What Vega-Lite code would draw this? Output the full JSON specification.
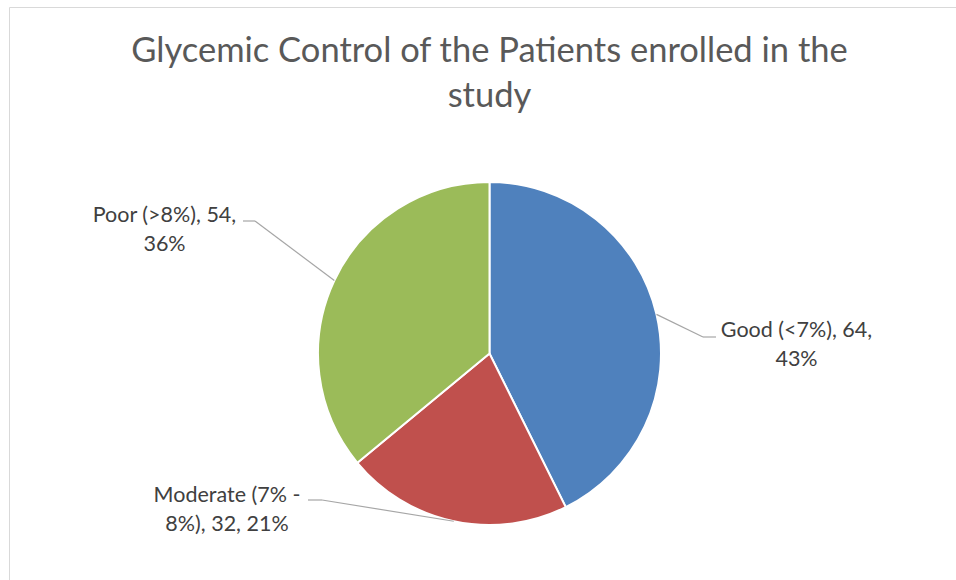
{
  "$schema": "https://vega.github.io/schema/vega-lite/v6.json",
  "width": 961,
  "height": 693,
  "autosize": {"type": "none"},
  "padding": {"left": 9, "top": 7, "right": 0, "bottom": 0},
  "background": "white",
  "config": {"view": {"stroke": "#d9d9d9", "strokeWidth": 1}, "font": "Lato"},
  "title": {
    "text": ["Glycemic Control of the Patients enrolled in the", "study"],
    "anchor": "middle",
    "frame": "group",
    "orient": "top",
    "offset": -134,
    "baseline": "alphabetic",
    "font": "Lato",
    "fontSize": 34.5,
    "fontWeight": "normal",
    "color": "#595959",
    "lineHeight": 45
  },
  "data": {
    "values": [
      {"category": "Good (<7%)", "count": 64, "label": ["Good (<7%), 64,", "43%"]},
      {"category": "Moderate (7% - 8%)", "count": 32, "label": ["Moderate (7% -", "8%), 32, 21%"]},
      {"category": "Poor (>8%)", "count": 54, "label": ["Poor (>8%), 54,", "36%"]}
    ]
  },
  "transform": [
    {"joinaggregate": [{"op": "sum", "field": "count", "as": "total"}]},
    {"window": [{"op": "sum", "field": "count", "as": "cum"}], "sort": [{"field": "category", "order": "ascending"}], "frame": [null, 0]},
    {"calculate": "2*PI*(datum.cum - datum.count/2)/datum.total", "as": "mid"},
    {"calculate": "171.5*sin(datum.mid)", "as": "ex"},
    {"calculate": "171.5*cos(datum.mid)", "as": "ey"},
    {"calculate": "datum.category == 'Good (<7%)' ? 213.5 : datum.category == 'Poor (>8%)' ? -234.5 : -167.5", "as": "elx"},
    {"calculate": "datum.category == 'Good (<7%)' ? 16.5 : datum.category == 'Poor (>8%)' ? 132.5 : -146.5", "as": "ely"},
    {"calculate": "datum.category == 'Good (<7%)' ? 226.5 : datum.category == 'Poor (>8%)' ? -246.5 : -181.5", "as": "endx"},
    {"calculate": "datum.category == 'Good (<7%)' ? 307 : datum.category == 'Poor (>8%)' ? -325 : -262.5", "as": "tx"},
    {"calculate": "datum.category == 'Good (<7%)' ? 16.5 : datum.category == 'Poor (>8%)' ? 131.5 : -148.5", "as": "ty"}
  ],
  "layer": [
    {
      "mark": {"type": "arc", "outerRadius": 171.5, "stroke": "white", "strokeWidth": 2},
      "encoding": {
        "theta": {"field": "count", "type": "quantitative", "stack": true},
        "color": {
          "field": "category",
          "type": "nominal",
          "scale": {"domain": ["Good (<7%)", "Moderate (7% - 8%)", "Poor (>8%)"], "range": ["#4F81BD", "#C0504D", "#9BBB59"]},
          "legend": null
        },
        "order": {"field": "category", "sort": "ascending"}
      }
    },
    {
      "mark": {"type": "rule", "color": "#a6a6a6", "strokeWidth": 1.2},
      "encoding": {
        "x": {"field": "ex", "type": "quantitative", "scale": {"domain": [-480.5, 480.5], "nice": false, "zero": false}, "axis": null},
        "y": {"field": "ey", "type": "quantitative", "scale": {"domain": [-346.5, 346.5], "nice": false, "zero": false}, "axis": null},
        "x2": {"field": "elx"},
        "y2": {"field": "ely"}
      }
    },
    {
      "mark": {"type": "rule", "color": "#a6a6a6", "strokeWidth": 1.2},
      "encoding": {
        "x": {"field": "elx", "type": "quantitative", "scale": {"domain": [-480.5, 480.5], "nice": false, "zero": false}, "axis": null},
        "y": {"field": "ely", "type": "quantitative", "scale": {"domain": [-346.5, 346.5], "nice": false, "zero": false}, "axis": null},
        "x2": {"field": "endx"},
        "y2": {"field": "ely"}
      }
    },
    {
      "mark": {"type": "text", "align": "center", "baseline": "alphabetic", "font": "Lato", "fontSize": 21.5, "lineHeight": 29, "color": "#404040"},
      "encoding": {
        "x": {"field": "tx", "type": "quantitative", "scale": {"domain": [-480.5, 480.5], "nice": false, "zero": false}, "axis": null},
        "y": {"field": "ty", "type": "quantitative", "scale": {"domain": [-346.5, 346.5], "nice": false, "zero": false}, "axis": null},
        "text": {"field": "label"}
      }
    }
  ]
}
